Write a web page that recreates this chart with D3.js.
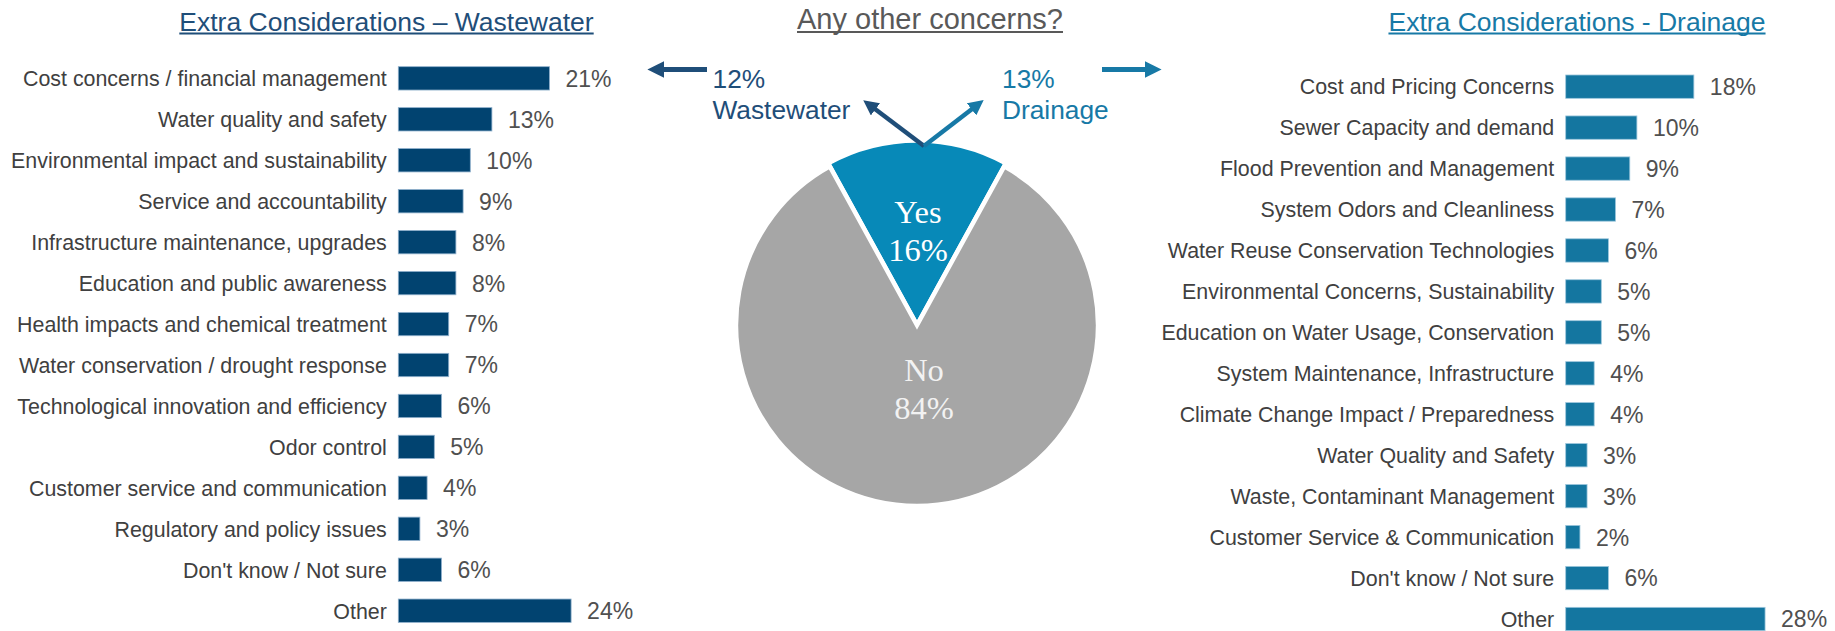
<!DOCTYPE html>
<html>
<head>
<meta charset="utf-8">
<script src="https://cdn.jsdelivr.net/npm/d3@7"></script>
<style>
  html, body { margin: 0; padding: 0; background: #fff; }
  svg { display: block; }
</style>
</head>
<body>
<svg id="chart" width="1835" height="631"></svg>
<script>
// ---- data ----
const wastewaterCategories = [
  "Cost concerns / financial management",
  "Water quality and safety",
  "Environmental impact and sustainability",
  "Service and accountability",
  "Infrastructure maintenance, upgrades",
  "Education and public awareness",
  "Health impacts and chemical treatment",
  "Water conservation / drought response",
  "Technological innovation and efficiency",
  "Odor control",
  "Customer service and communication",
  "Regulatory and policy issues",
  "Don't know / Not sure",
  "Other"
];
const wastewaterValues = [21, 13, 10, 9, 8, 8, 7, 7, 6, 5, 4, 3, 6, 24];

const drainageCategories = [
  "Cost and Pricing Concerns",
  "Sewer Capacity and demand",
  "Flood Prevention and Management",
  "System Odors and Cleanliness",
  "Water Reuse Conservation Technologies",
  "Environmental Concerns, Sustainability",
  "Education on Water Usage, Conservation",
  "System Maintenance, Infrastructure",
  "Climate Change Impact / Preparedness",
  "Water Quality and Safety",
  "Waste, Contaminant Management",
  "Customer Service & Communication",
  "Don't know / Not sure",
  "Other"
];
const drainageValues = [18, 10, 9, 7, 6, 5, 5, 4, 4, 3, 3, 2, 6, 28];

const pieLabels = ["Yes", "No"];
const pieValues = [16, 84];

const splitLabels = ["Wastewater", "Drainage"];
const splitValues = [12, 13];

const titles = {
  left: "Extra Considerations \u2013 Wastewater",
  center: "Any other concerns?",
  right: "Extra Considerations - Drainage"
};

// ---- styling ----
const SANS = "'Liberation Sans', Arial, sans-serif";
const SERIF = "'Liberation Serif', 'Times New Roman', serif";
const NAVY = "#014370";
const TEAL = "#1476A0";
const NAVY_TEXT = "#1F4E79";
const TEAL_TEXT = "#1779A6";
const GREY_TEXT = "#404040";

const svg = d3.select("#chart");

// defs: arrow heads
const defs = svg.append("defs");
function arrowMarker(id, color) {
  defs.append("marker")
    .attr("id", id)
    .attr("viewBox", "0 0 10 10")
    .attr("refX", 2).attr("refY", 5)
    .attr("markerWidth", 3.4).attr("markerHeight", 3.4)
    .attr("markerUnits", "strokeWidth")
    .attr("orient", "auto")
    .append("path")
    .attr("d", "M0,0 L10,5 L0,10 Z")
    .attr("fill", color);
}
arrowMarker("headNavy", NAVY_TEXT);
arrowMarker("headTeal", TEAL_TEXT);

// ---- titles with underline ----
function underlinedTitle(text, cx, baseline, size, color) {
  const t = svg.append("text")
    .attr("x", cx).attr("y", baseline)
    .attr("text-anchor", "middle")
    .attr("font-family", SANS)
    .attr("font-size", size)
    .attr("fill", color)
    .text(text);
  const w = t.node().getComputedTextLength();
  svg.append("line")
    .attr("x1", cx - w / 2).attr("x2", cx + w / 2)
    .attr("y1", baseline + 3).attr("y2", baseline + 3)
    .attr("stroke", color).attr("stroke-width", 1.8);
}
underlinedTitle(titles.left, 386.5, 30.5, 26.5, NAVY_TEXT);
underlinedTitle(titles.center, 930, 29, 29, "#595959");
underlinedTitle(titles.right, 1577, 30.5, 26.5, TEAL_TEXT);

// ---- horizontal bar charts ----
function barChart(cfg) {
  const g = svg.append("g");
  const y = d3.scaleBand()
    .domain(cfg.categories)
    .range([cfg.top, cfg.top + cfg.step * cfg.categories.length])
    .paddingInner(0.43).paddingOuter(0.215);
  const x = d3.scaleLinear().domain([0, 30]).range([cfg.x0, cfg.x0 + 30 * cfg.pxPerPct]);
  const rows = cfg.categories.map((c, i) => ({ c, v: cfg.values[i] }));

  g.selectAll("rect").data(rows).join("rect")
    .attr("x", x(0))
    .attr("y", d => y(d.c))
    .attr("width", d => x(d.v) - x(0))
    .attr("height", y.bandwidth())
    .attr("fill", cfg.color)
    .attr("stroke", cfg.edge).attr("stroke-width", 0.8);

  const mid = d => y(d.c) + y.bandwidth() / 2;

  g.selectAll("text.cat").data(rows).join("text")
    .attr("class", "cat")
    .attr("x", x(0) - 11.5)
    .attr("y", d => mid(d) + 7.8)
    .attr("text-anchor", "end")
    .attr("font-family", SANS)
    .attr("font-size", 21.4)
    .attr("fill", GREY_TEXT)
    .text(d => d.c);

  g.selectAll("text.val").data(rows).join("text")
    .attr("class", "val")
    .attr("x", d => x(d.v) + cfg.valGap)
    .attr("y", d => mid(d) + 8.4)
    .attr("font-family", SANS)
    .attr("font-size", 23)
    .attr("fill", "#505050")
    .text(d => d.v + "%");
}

barChart({
  categories: wastewaterCategories, values: wastewaterValues,
  x0: 398.3, top: 66.7 - 0.43 * 41 / 2, step: 40.95,
  pxPerPct: 7.2, color: NAVY, edge: "#8fb0cc", valGap: 16
});
barChart({
  categories: drainageCategories, values: drainageValues,
  x0: 1565.7, top: 75 - 0.43 * 41 / 2, step: 40.95,
  pxPerPct: 7.12, color: TEAL, edge: "#9cc6dc", valGap: 16
});

// ---- pie ----
const pieCx = 917, pieCy = 325;
const pie = d3.pie().sort(null)
  .startAngle(-Math.PI * pieValues[0] / 100)
  .endAngle(2 * Math.PI - Math.PI * pieValues[0] / 100);
const arcs = pie(pieValues);
const outerR = [184.5, 181];
const pieG = svg.append("g").attr("transform", `translate(${pieCx},${pieCy})`);
pieG.selectAll("path").data(arcs).join("path")
  .attr("d", (d, i) => d3.arc().innerRadius(0).outerRadius(outerR[i])(d))
  .attr("fill", (d, i) => i === 0 ? "#0789B8" : "#A6A6A6")
  .attr("stroke", "#fff").attr("stroke-width", 4.5).attr("stroke-linejoin", "miter");

// slice labels
const sliceText = [
  { dx: 1, y1: -101.7, y2: -64, color: "#ffffff" },
  { dx: 7, y1: 55.7, y2: 94.3, color: "#F2F2F2" }
];
arcs.forEach((a, i) => {
  const s = sliceText[i];
  const t = pieG.append("text")
    .attr("text-anchor", "middle")
    .attr("font-family", SERIF)
    .attr("font-size", 32.5)
    .attr("fill", s.color);
  t.append("tspan").attr("x", s.dx).attr("y", s.y1).text(pieLabels[i]);
  t.append("tspan").attr("x", s.dx).attr("y", s.y2).text(pieValues[i] + "%");
});

// ---- split annotations (Yes -> wastewater / drainage) ----
const vertex = [924, 146];
svg.append("line")
  .attr("x1", vertex[0]).attr("y1", vertex[1])
  .attr("x2", 873).attr("y2", 107.5)
  .attr("stroke", NAVY_TEXT).attr("stroke-width", 4.5)
  .attr("marker-end", "url(#headNavy)");
svg.append("line")
  .attr("x1", vertex[0]).attr("y1", vertex[1])
  .attr("x2", 974).attr("y2", 107.5)
  .attr("stroke", TEAL_TEXT).attr("stroke-width", 4.5)
  .attr("marker-end", "url(#headTeal)");

// horizontal pointers towards each bar chart
svg.append("line")
  .attr("x1", 707).attr("y1", 69.5).attr("x2", 661).attr("y2", 69.5)
  .attr("stroke", NAVY_TEXT).attr("stroke-width", 5)
  .attr("marker-end", "url(#headNavy)");
svg.append("line")
  .attr("x1", 1102).attr("y1", 69.5).attr("x2", 1148).attr("y2", 69.5)
  .attr("stroke", TEAL_TEXT).attr("stroke-width", 5)
  .attr("marker-end", "url(#headTeal)");

const splitPos = [
  { x: 712.5, color: NAVY_TEXT },
  { x: 1002, color: TEAL_TEXT }
];
splitLabels.forEach((lab, i) => {
  const t = svg.append("text")
    .attr("font-family", SANS)
    .attr("font-size", 26.3)
    .attr("fill", splitPos[i].color);
  t.append("tspan").attr("x", splitPos[i].x).attr("y", 87.5).text(splitValues[i] + "%");
  t.append("tspan").attr("x", splitPos[i].x).attr("y", 118.5).text(lab);
});
</script>
</body>
</html>
